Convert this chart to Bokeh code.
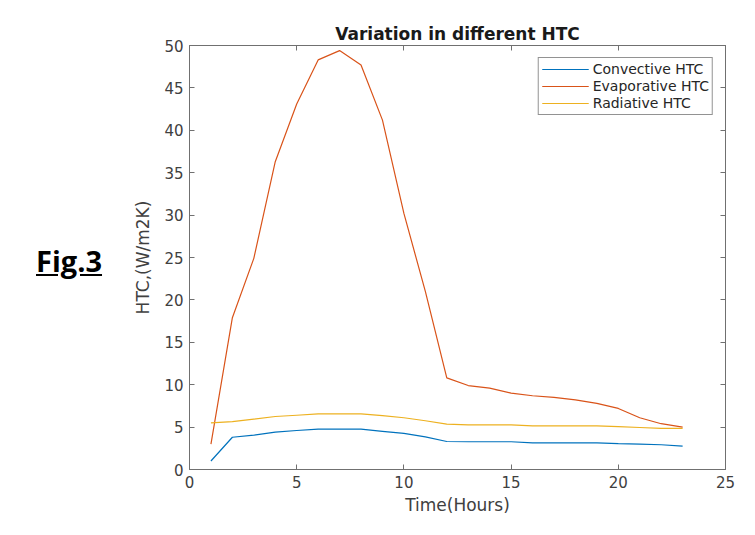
from bokeh.plotting import figure
from bokeh.models import (Range1d, FixedTicker, LinearAxis, Div, Legend, LegendItem)
from bokeh.layouts import row
from bokeh.embed import file_html
from bokeh.resources import INLINE

hours = list(range(1, 24))
convective = [1.0, 3.8, 4.05, 4.4, 4.6, 4.75, 4.75, 4.75, 4.5, 4.25, 3.85, 3.3,
              3.27, 3.27, 3.27, 3.15, 3.15, 3.15, 3.15, 3.05, 3.0, 2.92, 2.75]
evaporative = [3.0, 17.9, 24.9, 36.3, 43.1, 48.3, 49.4, 47.7, 41.2, 30.2, 21.0, 10.8,
               9.9, 9.6, 9.0, 8.7, 8.5, 8.2, 7.8, 7.2, 6.1, 5.4, 5.0]
radiative = [5.5, 5.65, 5.95, 6.25, 6.4, 6.55, 6.55, 6.55, 6.35, 6.1, 5.75, 5.35,
             5.27, 5.27, 5.27, 5.15, 5.15, 5.15, 5.15, 5.05, 4.95, 4.85, 4.85]
series_names = ["Convective HTC", "Evaporative HTC", "Radiative HTC"]
series_colors = ["#0072BD", "#D95319", "#EDB120"]
x_ticks = [0, 5, 10, 15, 20, 25]
y_ticks = [0, 5, 10, 15, 20, 25, 30, 35, 40, 45, 50]
caption = "Fig.3"

FONT = "DejaVu Sans"
AXC = "#707070"
TXT = "#404040"

DIV_W = 130
p = figure(frame_width=536, frame_height=424,
           min_border_left=186 - DIV_W, min_border_right=24, min_border_top=45, min_border_bottom=59,
           x_range=Range1d(0, 25), y_range=Range1d(0, 50),
           output_backend="svg", toolbar_location=None,
           title="Variation in different HTC")
p.title.align = "center"
p.title.text_font = FONT
p.title.text_font_size = "17px"
p.title.text_font_style = "bold"
p.title.text_color = "#1a1a1a"
p.title.standoff = 3

p.grid.visible = False
p.outline_line_color = AXC
p.outline_line_width = 1
p.background_fill_color = "white"
p.border_fill_color = "white"

p.xaxis.ticker = FixedTicker(ticks=x_ticks)
p.yaxis.ticker = FixedTicker(ticks=y_ticks)
p.xaxis.axis_label = "Time(Hours)"
p.yaxis.axis_label = "HTC,(W/m2K)"
for ax in (p.xaxis[0], p.yaxis[0]):
    ax.axis_line_color = AXC
    ax.major_tick_line_color = AXC
    ax.major_tick_in = 5
    ax.major_tick_out = 0
    ax.minor_tick_line_color = None
    ax.major_label_text_font = FONT
    ax.major_label_text_font_size = "15px"
    ax.major_label_text_color = TXT
    ax.axis_label_text_font = FONT
    ax.axis_label_text_font_size = "17px"
    ax.axis_label_text_font_style = "normal"
    ax.axis_label_text_color = TXT
p.xaxis.major_label_standoff = 6
p.xaxis.axis_label_standoff = 4
p.yaxis.major_label_standoff = 6
p.yaxis.axis_label_standoff = 8

for loc, tk in (("right", y_ticks), ("above", x_ticks)):
    ax = LinearAxis(ticker=FixedTicker(ticks=tk))
    ax.axis_line_color = AXC
    ax.major_tick_line_color = AXC
    ax.major_tick_in = 5
    ax.major_tick_out = 0
    ax.minor_tick_line_color = None
    ax.major_label_text_font_size = "0px"
    ax.major_label_text_color = None
    ax.major_label_standoff = 0
    p.add_layout(ax, loc)

items = []
for name, ys, col in zip(series_names, [convective, evaporative, radiative], series_colors):
    r = p.line(hours, ys, line_color=col, line_width=1.2)
    items.append(LegendItem(label=name, renderers=[r]))

legend = Legend(items=items, location="top_right")
legend.margin = 12
legend.padding = 3
legend.spacing = 1
legend.glyph_width = 47
legend.glyph_height = 16
legend.label_height = 16
legend.label_standoff = 4
legend.label_text_font = FONT
legend.label_text_font_size = "14px"
legend.label_text_color = "#262626"
legend.border_line_color = "#262626"
legend.border_line_width = 1
legend.background_fill_alpha = 1
p.add_layout(legend, "center")

caption_html = (
    '<div style="font-family:\'Open Sans\';font-weight:bold;font-size:29px;'
    'text-decoration:underline;line-height:38px;margin:0;padding:0;'
    'position:absolute;left:36px;top:242px;color:black;white-space:nowrap">'
    + caption + '</div>'
)
div = Div(text=caption_html, width=DIV_W, height=528, margin=0)

layout = row(div, p, spacing=0)
open("out.html", "w").write(file_html(layout, INLINE))
